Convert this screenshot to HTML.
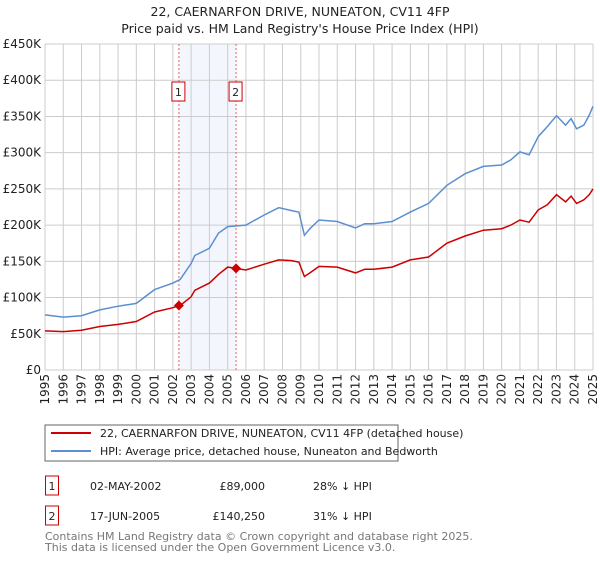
<!DOCTYPE html>
<html><head><meta charset="utf-8"><style>
body{margin:0;background:#fff;font-family:"Liberation Sans","DejaVu Sans",sans-serif;}
svg text{font-family:"DejaVu Sans","Liberation Sans",sans-serif;}
</style></head><body>
<svg id="c" width="600" height="560" viewBox="0 0 600 560" xmlns="http://www.w3.org/2000/svg">
<text x="300" y="16" text-anchor="middle" font-size="12.5" fill="#222">22, CAERNARFON DRIVE, NUNEATON, CV11 4FP</text>
<text x="300" y="33" text-anchor="middle" font-size="12.5" fill="#222">Price paid vs. HM Land Registry's House Price Index (HPI)</text>
<g id="grid"></g><g id="marks"></g><g id="axes"></g>
<rect x="45" y="425" width="353" height="36" fill="#fff" stroke="#666"/>
<line x1="51" y1="433" x2="91" y2="433" stroke="#cc0000" stroke-width="2"/>
<text x="100" y="437" font-size="11" fill="#222">22, CAERNARFON DRIVE, NUNEATON, CV11 4FP (detached house)</text>
<line x1="51" y1="451" x2="91" y2="451" stroke="#5b8fd0" stroke-width="2"/>
<text x="100" y="455" font-size="11" fill="#222">HPI: Average price, detached house, Nuneaton and Bedworth</text>
<g>
<rect x="45.5" y="476" width="13" height="19" fill="#fff" stroke="#cc0000"/>
<text x="52" y="490" font-size="11" text-anchor="middle" fill="#222">1</text>
<text x="90" y="490" font-size="11" fill="#222">02-MAY-2002</text>
<text x="265" y="490" font-size="11" text-anchor="end" fill="#222">£89,000</text>
<text x="313" y="490" font-size="11" fill="#222">28% ↓ HPI</text></g>
<g>
<rect x="45.5" y="506" width="13" height="19" fill="#fff" stroke="#cc0000"/>
<text x="52" y="520" font-size="11" text-anchor="middle" fill="#222">2</text>
<text x="90" y="520" font-size="11" fill="#222">17-JUN-2005</text>
<text x="265" y="520" font-size="11" text-anchor="end" fill="#222">£140,250</text>
<text x="313" y="520" font-size="11" fill="#222">31% ↓ HPI</text></g>
<text x="45" y="540" font-size="11" fill="#777">Contains HM Land Registry data © Crown copyright and database right 2025.</text>
<text x="45" y="551" font-size="11" fill="#777">This data is licensed under the Open Government Licence v3.0.</text>
</svg>
<script>
const times=[1995,1996,1997,1998,1999,2000,2001,2002,2002.4,2003,2003.2,2004,2004.5,2005,2006,2007,2007.8,2008.5,2008.9,2009.2,2009.5,2010,2011,2012,2012.5,2013,2014,2015,2016,2017,2018,2019,2020,2020.5,2021,2021.5,2022,2022.5,2023,2023.5,2023.8,2024.1,2024.5,2024.8,2025];
const hpiValues=[76,73,75,83,88,92,111,120,125,147,158,168,189,198,200,214,224,220,218,186,195,207,205,196,202,202,205,218,230,255,271,281,283,290,301,297,322,336,351,338,347,333,338,352,364];
const propertyValues=[54,53,55,60,63,67,80,86,89,101,110,120,132,142,138,146,152,151,149,129,134,143,142,134,139,139,142,152,156,175,185,193,195,200,207,204,221,228,242,232,240,230,235,242,250];
const saleTimes=[2002.33,2005.46];
const salePrices=[89,140.25];
const saleLabels=["1","2"];
const yTicks=[0,50,100,150,200,250,300,350,400,450];
const yTickLabels=["£0","£50K","£100K","£150K","£200K","£250K","£300K","£350K","£400K","£450K"];
const xYears=[];for(let y=1995;y<=2025;y++)xYears.push(y);
const X0=45,X1=593,Y0=370,Y1=44;
const sx=t=>X0+(t-1995)/30*(X1-X0);
const sy=v=>Y0-v/450*(Y0-Y1);
const NS="http://www.w3.org/2000/svg";
function mk(tag,attrs,parent){const e=document.createElementNS(NS,tag);for(const k in attrs)e.setAttribute(k,attrs[k]);document.getElementById(parent).appendChild(e);return e;}
let e=mk('rect',{x:sx(saleTimes[0]),y:Y1,width:sx(saleTimes[1])-sx(saleTimes[0]),height:Y0-Y1,fill:'#eef3fc',opacity:0.7},'grid');


yTicks.forEach((v,i)=>{
 let l=mk('line',{x1:X0,x2:X1,y1:sy(v),y2:sy(v),stroke:'#ccc','stroke-width':1},'grid');
 
 
 let t=mk('text',{x:X0-4,y:sy(v)+4,'text-anchor':'end','font-size':12,fill:'#222'},'axes');
 t.textContent=yTickLabels[i];
 
 
});
xYears.forEach(y=>{
 let l=mk('line',{x1:sx(y),x2:sx(y),y1:Y1,y2:Y0,stroke:'#ccc','stroke-width':1},'grid');
 
 
 let t=mk('text',{x:0,y:0,'text-anchor':'end','font-size':12,fill:'#222',transform:`translate(${sx(y)+4},${Y0+4}) rotate(-90)`},'axes');
 t.textContent=y;
 
 
});
saleTimes.forEach((t,i)=>{
 let l=mk('line',{x1:sx(t),x2:sx(t),y1:Y1,y2:Y0,stroke:'#e06666','stroke-width':1,'stroke-dasharray':'2,2'},'marks');
 
 
});
const pts=(vals)=>times.map((t,i)=>sx(t).toFixed(1)+','+sy(vals[i]).toFixed(1)).join(' ');
let h=mk('polyline',{points:pts(hpiValues),fill:'none',stroke:'#5b8fd0','stroke-width':1.5},'marks');


let p=mk('polyline',{points:pts(propertyValues),fill:'none',stroke:'#cc0000','stroke-width':1.5},'marks');


saleTimes.forEach((t,i)=>{
 const cx=sx(t),cy=sy(salePrices[i]);
 let d=mk('polygon',{points:`${cx},${cy-5} ${cx+5},${cy} ${cx},${cy+5} ${cx-5},${cy}`,fill:'#cc0000'},'marks');
 
 
 let r=mk('rect',{x:cx-7,y:82,width:13,height:19,fill:'#fff',stroke:'#cc0000'},'marks');
 
 
 let tx=mk('text',{x:cx-0.5,y:96,'text-anchor':'middle','font-size':11,fill:'#222'},'marks');
 tx.textContent=saleLabels[i];
 
 
});
</script>
</body></html>
